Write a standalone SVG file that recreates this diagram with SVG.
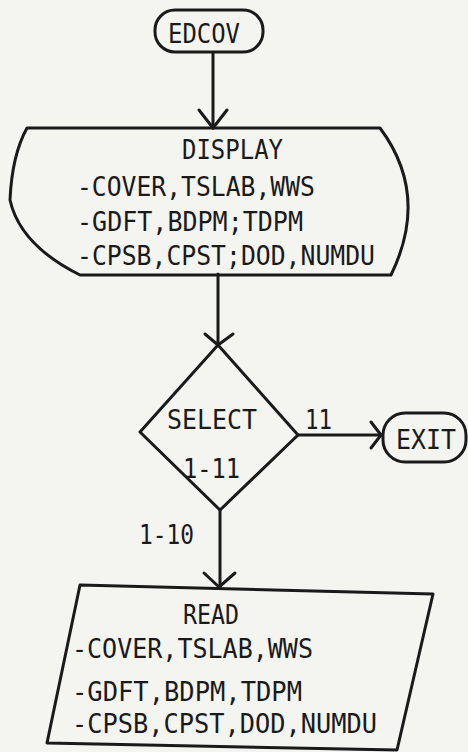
<svg xmlns="http://www.w3.org/2000/svg" width="468" height="752" viewBox="0 0 468 752">
<style>
.s{fill:none;stroke:#1a1a1a;stroke-width:3;stroke-linejoin:round;stroke-linecap:round}
.t{font-family:"DejaVu Sans Mono","Liberation Mono",monospace;font-size:27px;fill:#1a1a1a}
</style>
<rect width="468" height="752" fill="#f4f4f1"/>
<g id="connectors" class="s">
<path d="M213,53 V128"/><path d="M199,110 L213,128 L227,110"/>
<path d="M218,274 V345"/><path d="M205,334 L218,345 L233,334"/>
<path d="M298,435 H381"/><path d="M371,422 L381,435 L371,448"/>
<path d="M220,510 V587"/><path d="M204,573 L219,587 L235,573"/>
</g>
<g id="edcov">
<rect class="s" x="155" y="10" width="108" height="42" rx="20"/>
<text class="t" x="168" y="43" textLength="72" lengthAdjust="spacingAndGlyphs">EDCOV</text>
</g>
<g id="display">
<path class="s" d="M27,128 H380 Q430,195 391,275 H80 Q20,245 10,200 Q12,155 27,128 Z"/>
<text class="t" x="182" y="159" textLength="101" lengthAdjust="spacingAndGlyphs">DISPLAY</text>
<text class="t" x="77" y="196" textLength="238" lengthAdjust="spacingAndGlyphs">-COVER,TSLAB,WWS</text>
<text class="t" x="77" y="231" textLength="226" lengthAdjust="spacingAndGlyphs">-GDFT,BDPM;TDPM</text>
<text class="t" x="77" y="265" textLength="298" lengthAdjust="spacingAndGlyphs">-CPSB,CPST;DOD,NUMDU</text>
</g>
<g id="select">
<path class="s" d="M218,345 L298,435 L220,510 L140,432 Z"/>
<text class="t" x="167" y="429" textLength="90" lengthAdjust="spacingAndGlyphs">SELECT</text>
<text class="t" x="183" y="478" textLength="57" lengthAdjust="spacingAndGlyphs">1-11</text>
</g>
<g id="labels">
<text class="t" x="305" y="429" textLength="27" lengthAdjust="spacingAndGlyphs">11</text>
<text class="t" x="139" y="544" textLength="55" lengthAdjust="spacingAndGlyphs">1-10</text>
</g>
<g id="exit">
<rect class="s" x="383" y="413" width="83" height="49" rx="22"/>
<text class="t" x="396" y="449" textLength="60" lengthAdjust="spacingAndGlyphs">EXIT</text>
</g>
<g id="read">
<path class="s" d="M80,585 L433,594 L397,750 L47,743 Z"/>
<text class="t" x="183" y="624" textLength="56" lengthAdjust="spacingAndGlyphs">READ</text>
<text class="t" x="72" y="658" textLength="241" lengthAdjust="spacingAndGlyphs">-COVER,TSLAB,WWS</text>
<text class="t" x="72" y="701" textLength="230" lengthAdjust="spacingAndGlyphs">-GDFT,BDPM,TDPM</text>
<text class="t" x="72" y="733" textLength="305" lengthAdjust="spacingAndGlyphs">-CPSB,CPST,DOD,NUMDU</text>
</g>
</svg>
